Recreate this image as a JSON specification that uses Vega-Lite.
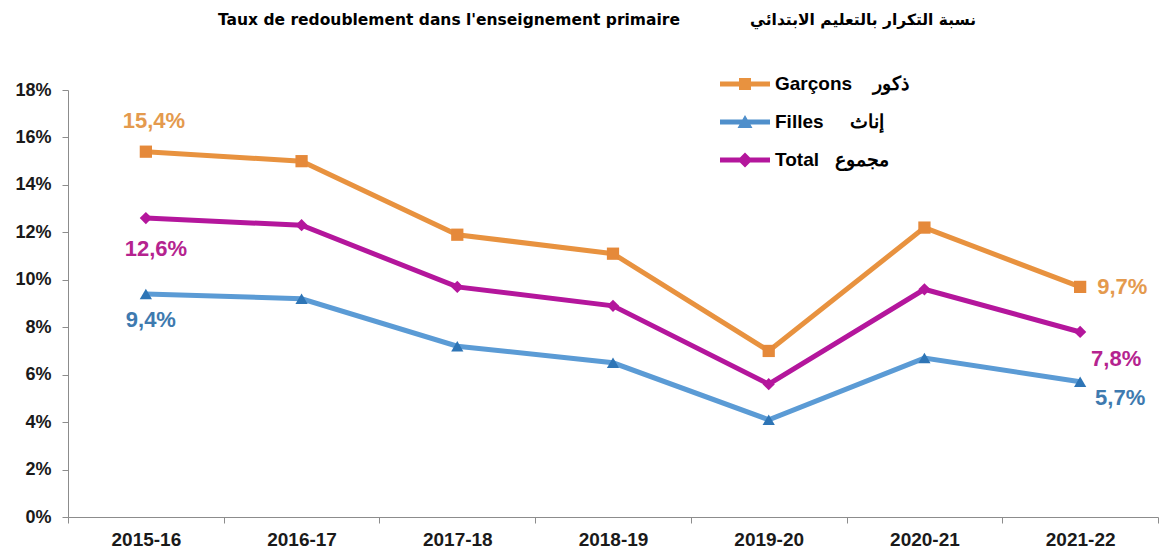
{
  "$schema": "https://vega.github.io/schema/vega-lite/v6.json",
  "width": 1090,
  "height": 427,
  "autosize": "none",
  "padding": {"left": 68, "top": 90, "right": 1, "bottom": 34},
  "background": "white",
  "config": {
    "view": {"stroke": null},
    "locale": {"number": {"decimal": ",", "thousands": "\u00a0", "grouping": [3], "currency": ["", "\u00a0€"]}},
    "axis": {
      "domainColor": "#8c8c8c",
      "tickColor": "#8c8c8c",
      "labelFont": "Liberation Sans",
      "labelFontWeight": "bold",
      "labelColor": "#1a1a1a",
      "grid": false,
      "title": null
    }
  },
  "title": {
    "text": "Taux de redoublement dans l'enseignement primaire\u00a0\u00a0\u00a0\u00a0\u00a0\u00a0\u00a0\u00a0\u00a0\u00a0\u00a0\u00a0\u00a0نسبة التكرار بالتعليم الابتدائي",
    "anchor": "start",
    "dx": 203,
    "offset": 46,
    "font": "DejaVu Sans",
    "fontSize": 15.5,
    "fontWeight": "bold",
    "color": "#000000"
  },
  "data": {
    "values": [
      {"year": "2015-16", "series": "Garçons", "value": 0.154},
      {"year": "2016-17", "series": "Garçons", "value": 0.150},
      {"year": "2017-18", "series": "Garçons", "value": 0.119},
      {"year": "2018-19", "series": "Garçons", "value": 0.111},
      {"year": "2019-20", "series": "Garçons", "value": 0.070},
      {"year": "2020-21", "series": "Garçons", "value": 0.122},
      {"year": "2021-22", "series": "Garçons", "value": 0.097},
      {"year": "2015-16", "series": "Filles", "value": 0.094},
      {"year": "2016-17", "series": "Filles", "value": 0.092},
      {"year": "2017-18", "series": "Filles", "value": 0.072},
      {"year": "2018-19", "series": "Filles", "value": 0.065},
      {"year": "2019-20", "series": "Filles", "value": 0.041},
      {"year": "2020-21", "series": "Filles", "value": 0.067},
      {"year": "2021-22", "series": "Filles", "value": 0.057},
      {"year": "2015-16", "series": "Total", "value": 0.126},
      {"year": "2016-17", "series": "Total", "value": 0.123},
      {"year": "2017-18", "series": "Total", "value": 0.097},
      {"year": "2018-19", "series": "Total", "value": 0.089},
      {"year": "2019-20", "series": "Total", "value": 0.056},
      {"year": "2020-21", "series": "Total", "value": 0.096},
      {"year": "2021-22", "series": "Total", "value": 0.078}
    ]
  },
  "encoding": {
    "x": {
      "field": "year",
      "type": "ordinal",
      "scale": {"type": "band", "paddingInner": 0, "paddingOuter": 0},
      "axis": {"labelAngle": 0, "tickBand": "extent", "tickSize": 6, "labelPadding": 7, "labelFontSize": 19}
    },
    "y": {
      "field": "value",
      "type": "quantitative",
      "scale": {"domain": [0, 0.18], "nice": false},
      "axis": {"values": [0, 0.02, 0.04, 0.06, 0.08, 0.1, 0.12, 0.14, 0.16, 0.18], "format": ".0%", "tickSize": 6, "labelPadding": 11, "labelFontSize": 18}
    }
  },
  "layer": [
    {
      "mark": {"type": "line", "strokeWidth": 5},
      "encoding": {
        "color": {"field": "series", "type": "nominal", "scale": {"domain": ["Garçons", "Filles", "Total"], "range": ["#E8923F", "#5B9BD5", "#B4169C"]}, "legend": null}
      }
    },
    {
      "mark": {"type": "point", "filled": true, "opacity": 1, "size": 150},
      "encoding": {
        "color": {"field": "series", "type": "nominal", "scale": {"domain": ["Garçons", "Filles", "Total"], "range": ["#E5893A", "#2E75B6", "#B4169C"]}, "legend": null},
        "shape": {"field": "series", "type": "nominal", "scale": {"domain": ["Garçons", "Filles", "Total"], "range": ["square", "triangle-up", "diamond"]}, "legend": null}
      }
    },
    {
      "mark": {"type": "point", "filled": true, "opacity": 0},
      "encoding": {
        "color": {
          "field": "series", "type": "nominal",
          "scale": {"domain": ["Garçons", "Filles", "Total"], "range": ["#E8923F", "#4F8FCB", "#B4169C"]},
          "legend": {"title": null, "orient": "none", "legendX": 667, "legendY": -16, "symbolSize": 400, "symbolOpacity": 1, "symbolStrokeWidth": 0, "labelFont": "Liberation Sans", "labelFontSize": 19, "labelFontWeight": "bold", "labelColor": "#000000", "labelOffset": 20, "rowPadding": 18, "padding": 0, "labelExpr": "datum.label == 'Garçons' ? 'Garçons\u00a0\u00a0\u00a0\u00a0ذكور' : datum.label == 'Filles' ? 'Filles\u00a0\u00a0\u00a0\u00a0\u00a0إناث' : 'Total\u00a0\u00a0\u00a0مجموع'"}
        },
        "shape": {
          "field": "series", "type": "nominal",
          "scale": {"domain": ["Garçons", "Filles", "Total"], "range": ["M-2.5,-0.25L2.5,-0.25L2.5,0.25L-2.5,0.25ZM-0.6,-0.6L0.6,-0.6L0.6,0.6L-0.6,0.6Z", "M-2.5,-0.25L2.5,-0.25L2.5,0.25L-2.5,0.25ZM0,-0.7L0.75,0.6L-0.75,0.6Z", "M-2.5,-0.25L2.5,-0.25L2.5,0.25L-2.5,0.25ZM0,-0.75L0.75,0L0,0.75L-0.75,0Z"]},
          "legend": {"title": null, "orient": "none", "legendX": 667, "legendY": -16, "symbolSize": 400, "symbolOpacity": 1, "symbolStrokeWidth": 0, "labelFont": "Liberation Sans", "labelFontSize": 19, "labelFontWeight": "bold", "labelColor": "#000000", "labelOffset": 20, "rowPadding": 18, "padding": 0, "labelExpr": "datum.label == 'Garçons' ? 'Garçons\u00a0\u00a0\u00a0\u00a0ذكور' : datum.label == 'Filles' ? 'Filles\u00a0\u00a0\u00a0\u00a0\u00a0إناث' : 'Total\u00a0\u00a0\u00a0مجموع'"}
        }
      }
    },
    {
      "transform": [{"filter": "datum.year == '2015-16' && datum.series == 'Garçons'"}],
      "mark": {"type": "text", "font": "Liberation Sans", "fontWeight": "bold", "fontSize": 22, "color": "#E49A4E", "baseline": "middle", "dx": 8, "dy": -31},
      "encoding": {"text": {"field": "value", "type": "quantitative", "format": ".1%"}}
    },
    {
      "transform": [{"filter": "datum.year == '2015-16' && datum.series == 'Total'"}],
      "mark": {"type": "text", "font": "Liberation Sans", "fontWeight": "bold", "fontSize": 22, "color": "#B5238F", "baseline": "middle", "dx": 10, "dy": 31},
      "encoding": {"text": {"field": "value", "type": "quantitative", "format": ".1%"}}
    },
    {
      "transform": [{"filter": "datum.year == '2015-16' && datum.series == 'Filles'"}],
      "mark": {"type": "text", "font": "Liberation Sans", "fontWeight": "bold", "fontSize": 22, "color": "#3E7AAF", "baseline": "middle", "dx": 5, "dy": 26},
      "encoding": {"text": {"field": "value", "type": "quantitative", "format": ".1%"}}
    },
    {
      "transform": [{"filter": "datum.year == '2021-22' && datum.series == 'Garçons'"}],
      "mark": {"type": "text", "font": "Liberation Sans", "fontWeight": "bold", "fontSize": 22, "color": "#E49A4E", "baseline": "middle", "align": "left", "dx": 17, "dy": 0},
      "encoding": {"text": {"field": "value", "type": "quantitative", "format": ".1%"}}
    },
    {
      "transform": [{"filter": "datum.year == '2021-22' && datum.series == 'Total'"}],
      "mark": {"type": "text", "font": "Liberation Sans", "fontWeight": "bold", "fontSize": 22, "color": "#B5238F", "baseline": "middle", "dx": 36, "dy": 27},
      "encoding": {"text": {"field": "value", "type": "quantitative", "format": ".1%"}}
    },
    {
      "transform": [{"filter": "datum.year == '2021-22' && datum.series == 'Filles'"}],
      "mark": {"type": "text", "font": "Liberation Sans", "fontWeight": "bold", "fontSize": 22, "color": "#3E7AAF", "baseline": "middle", "dx": 40, "dy": 16},
      "encoding": {"text": {"field": "value", "type": "quantitative", "format": ".1%"}}
    }
  ],
  "resolve": {"scale": {"color": "independent", "shape": "independent"}}
}
